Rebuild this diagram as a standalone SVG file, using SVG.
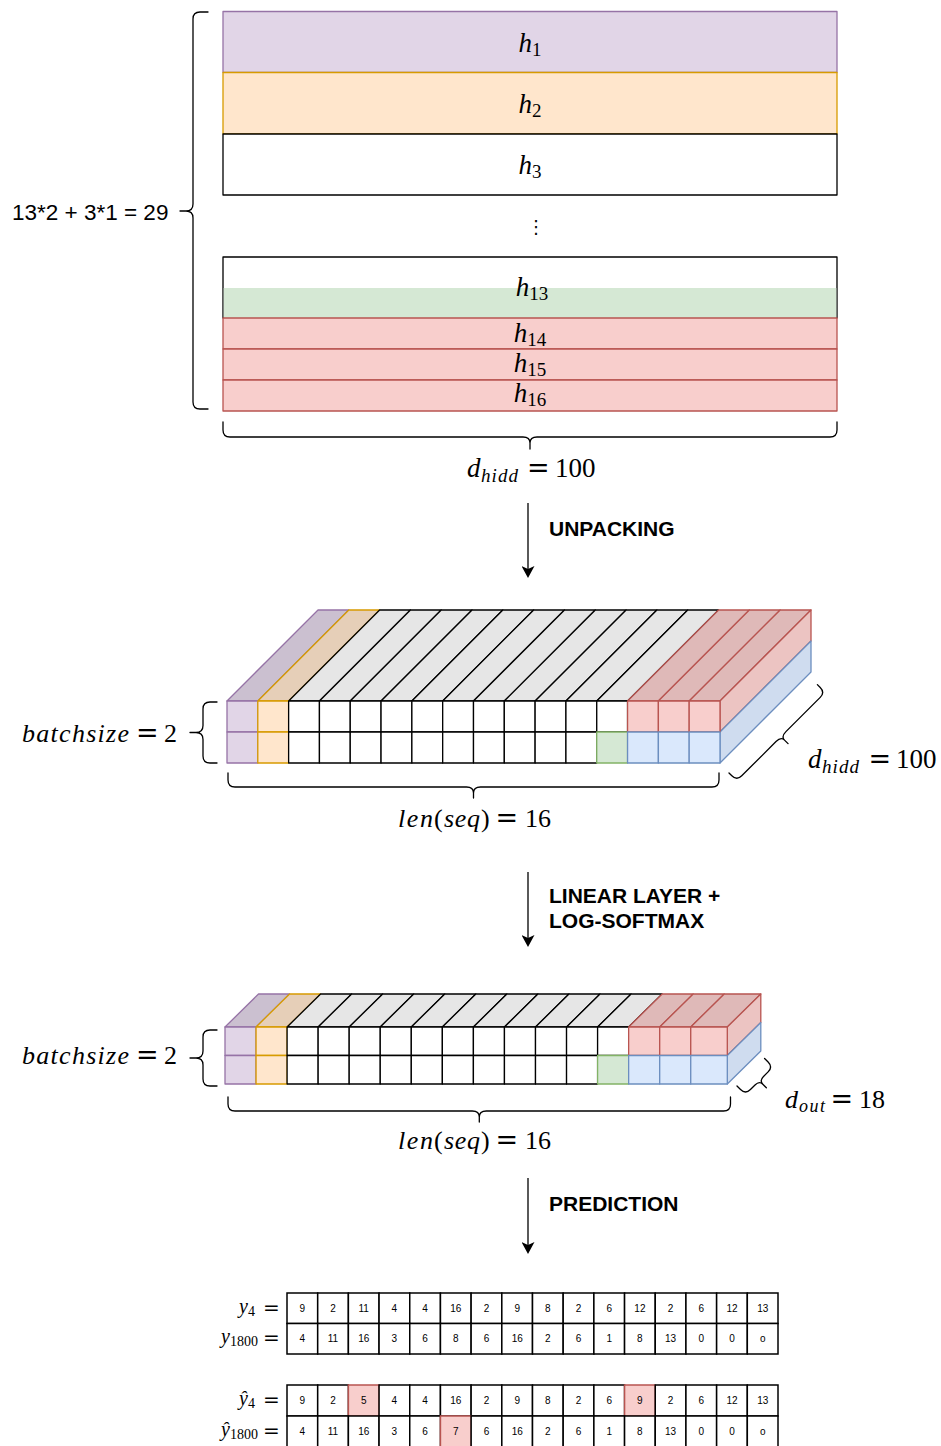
<svg xmlns="http://www.w3.org/2000/svg" width="941" height="1446" viewBox="0 0 941 1446">
  <defs>
    <style>
      .b { stroke-width: 1.3; stroke-linejoin: round; }
      .pu { fill: #e1d5e7; stroke: #9673a6; }
      .or { fill: #ffe6cc; stroke: #d79b00; }
      .wh { fill: #ffffff; stroke: #000000; }
      .gr { fill: #d5e8d4; stroke: #82b366; }
      .rd { fill: #f8cecc; stroke: #b85450; }
      .bl { fill: #dae8fc; stroke: #6c8ebf; }
      .put { fill: #cbc0d0; stroke: #9673a6; }
      .ort { fill: #e6cfb8; stroke: #d79b00; }
      .wht { fill: #e6e6e6; stroke: #000000; }
      .rdt { fill: #dfb9b8; stroke: #b85450; }
      .rds { fill: #ecc4c2; stroke: #b85450; }
      .bls { fill: #cfdcef; stroke: #6c8ebf; }
      .brace { fill: none; stroke: #000000; stroke-width: 1.3; stroke-linecap: round; stroke-linejoin: round; }
      .mi { font-family: "Liberation Serif", serif; font-style: italic; font-size: 27px; fill: #000; }
      .mn { font-family: "Liberation Serif", serif; font-size: 27px; fill: #000; }
      .eq { font-family: "DejaVu Serif", "Liberation Serif", serif; font-size: 27px; fill: #000; }
      .m26 { font-size: 26px; }
      .sub { font-style: normal; font-size: 19px; }
      .s19 { font-size: 19px; }
      .s18 { font-size: 18px; }
      .lab { font-family: "Liberation Sans", Arial, sans-serif; font-weight: bold; font-size: 21px; fill: #000; }
      .txt { font-family: "Liberation Sans", Arial, sans-serif; font-size: 22.5px; fill: #000; }
      .tc { fill: #ffffff; stroke: #000000; stroke-width: 1.5; }
      .th { fill: #f8cecc; stroke: #b85450; stroke-width: 1.5; }
      .n { font-family: "Liberation Sans", Arial, sans-serif; font-size: 10px; text-anchor: middle; fill: #000; }
      .ty { font-family: "Liberation Serif", serif; font-style: italic; font-size: 20px; fill: #000; }
      .tsub { font-style: normal; font-size: 14px; }
      .teq { font-family: "DejaVu Serif", "Liberation Serif", serif; font-size: 20px; fill: #000; }
      .conn { stroke: #000000; stroke-width: 1.3; fill: none; }
    </style>
    <marker id="arrow" markerUnits="userSpaceOnUse" markerWidth="13" markerHeight="13" refX="3" refY="6.5" orient="auto">
      <path d="M0,0 L12,6.5 L0,13 L3,6.5 Z" fill="#000"/>
    </marker>
  </defs>

  <!-- hidden-state stack -->
  <g id="stack">
    <g id="h1" class="b"><rect class="pu" x="223" y="11.5" width="614" height="61"/>
      <text class="mi" x="530" y="52" text-anchor="middle">h<tspan class="sub" dy="4">1</tspan></text></g>
    <g id="h2" class="b"><rect class="or" x="223" y="72.5" width="614" height="61.5"/>
      <text class="mi" x="530" y="113" text-anchor="middle">h<tspan class="sub" dy="4">2</tspan></text></g>
    <g id="h3" class="b"><rect class="wh" x="223" y="134" width="614" height="61"/>
      <text class="mi" x="530" y="174" text-anchor="middle">h<tspan class="sub" dy="4">3</tspan></text></g>
    <g id="vdots"><text x="536" y="233" font-family="DejaVu Sans, sans-serif" font-size="18" text-anchor="middle">⋮</text></g>
    <g id="h13" class="b"><rect class="wh" x="223" y="257" width="614" height="61"/>
      <rect x="223.7" y="288" width="612.6" height="30" fill="#d5e8d4"/>
      <text class="mi" x="532" y="296" text-anchor="middle">h<tspan class="sub" dy="4">13</tspan></text></g>
    <g id="h14" class="b"><rect class="rd" x="223" y="318" width="614" height="31"/>
      <text class="mi" x="530" y="342" text-anchor="middle">h<tspan class="sub" dy="4">14</tspan></text></g>
    <g id="h15" class="b"><rect class="rd" x="223" y="349" width="614" height="31"/>
      <text class="mi" x="530" y="372" text-anchor="middle">h<tspan class="sub" dy="4">15</tspan></text></g>
    <g id="h16" class="b"><rect class="rd" x="223" y="380" width="614" height="31"/>
      <text class="mi" x="530" y="402" text-anchor="middle">h<tspan class="sub" dy="4">16</tspan></text></g>
  </g>

  <g id="stack-count">
    <path class="brace" d="M208,12 H200 Q193,12 193,19 V204 Q193,211 186,211 H180 M186,211 Q193,211 193,218 V402 Q193,409 200,409 H208"/>
    <text class="txt" x="12" y="220">13*2 + 3*1 = 29</text>
  </g>

  <g id="stack-width">
    <path class="brace" d="M223,422 V430 Q223,437 230,437 H523 Q530,437 530,443 V449 M530,443 Q530,437 537,437 H830 Q837,437 837,430 V422"/>
    <text class="mi" x="467" y="477">d</text>
    <text class="mi s19" x="481" y="482" textLength="37" lengthAdjust="spacing">hidd</text>
    <text class="eq" x="527" y="477">=</text>
    <text class="mn" x="555" y="477">100</text>
  </g>

  <!-- connectors -->
  <g id="connectors">
    <line class="conn" x1="528" y1="503" x2="528" y2="569" marker-end="url(#arrow)"/>
    <line class="conn" x1="528" y1="872" x2="528" y2="938" marker-end="url(#arrow)"/>
    <line class="conn" x1="528" y1="1178" x2="528" y2="1245" marker-end="url(#arrow)"/>
    <text class="lab" x="549" y="536">UNPACKING</text>
    <text class="lab" x="549" y="903">LINEAR LAYER +</text>
    <text class="lab" x="549" y="928">LOG-SOFTMAX</text>
    <text class="lab" x="549" y="1211">PREDICTION</text>
  </g>

  <!-- unpacked tensor: batch x seq x hidden -->
  <g id="tensor-hidden" class="b">
    <g id="t1-top">
      <polygon class="put" points="227,701 257.81,701 348.81,610 318,610"/>
      <polygon class="ort" points="257.81,701 288.63,701 379.63,610 348.81,610"/>
      <polygon class="wht" points="288.63,701 319.44,701 410.44,610 379.63,610"/>
      <polygon class="wht" points="319.44,701 350.25,701 441.25,610 410.44,610"/>
      <polygon class="wht" points="350.25,701 381.06,701 472.06,610 441.25,610"/>
      <polygon class="wht" points="381.06,701 411.88,701 502.88,610 472.06,610"/>
      <polygon class="wht" points="411.88,701 442.69,701 533.69,610 502.88,610"/>
      <polygon class="wht" points="442.69,701 473.5,701 564.5,610 533.69,610"/>
      <polygon class="wht" points="473.5,701 504.31,701 595.31,610 564.5,610"/>
      <polygon class="wht" points="504.31,701 535.13,701 626.13,610 595.31,610"/>
      <polygon class="wht" points="535.13,701 565.94,701 656.94,610 626.13,610"/>
      <polygon class="wht" points="565.94,701 596.75,701 687.75,610 656.94,610"/>
      <polygon class="wht" points="596.75,701 627.56,701 718.56,610 687.75,610"/>
      <polygon class="rdt" points="627.56,701 658.38,701 749.38,610 718.56,610"/>
      <polygon class="rdt" points="658.38,701 689.19,701 780.19,610 749.38,610"/>
      <polygon class="rdt" points="689.19,701 720,701 811,610 780.19,610"/>
    </g>
    <g id="t1-side">
      <polygon class="rds" points="720,701 811,610 811,641 720,732"/>
      <polygon class="bls" points="720,732 811,641 811,672 720,763"/>
    </g>
    <g id="t1-front">
      <rect class="pu" x="227" y="701" width="30.81" height="31"/>
      <rect class="pu" x="227" y="732" width="30.81" height="31"/>
      <rect class="or" x="257.81" y="701" width="30.81" height="31"/>
      <rect class="or" x="257.81" y="732" width="30.81" height="31"/>
      <rect class="wh" x="288.63" y="701" width="30.81" height="31"/>
      <rect class="wh" x="288.63" y="732" width="30.81" height="31"/>
      <rect class="wh" x="319.44" y="701" width="30.81" height="31"/>
      <rect class="wh" x="319.44" y="732" width="30.81" height="31"/>
      <rect class="wh" x="350.25" y="701" width="30.81" height="31"/>
      <rect class="wh" x="350.25" y="732" width="30.81" height="31"/>
      <rect class="wh" x="381.06" y="701" width="30.81" height="31"/>
      <rect class="wh" x="381.06" y="732" width="30.81" height="31"/>
      <rect class="wh" x="411.88" y="701" width="30.81" height="31"/>
      <rect class="wh" x="411.88" y="732" width="30.81" height="31"/>
      <rect class="wh" x="442.69" y="701" width="30.81" height="31"/>
      <rect class="wh" x="442.69" y="732" width="30.81" height="31"/>
      <rect class="wh" x="473.5" y="701" width="30.81" height="31"/>
      <rect class="wh" x="473.5" y="732" width="30.81" height="31"/>
      <rect class="wh" x="504.31" y="701" width="30.81" height="31"/>
      <rect class="wh" x="504.31" y="732" width="30.81" height="31"/>
      <rect class="wh" x="535.13" y="701" width="30.81" height="31"/>
      <rect class="wh" x="535.13" y="732" width="30.81" height="31"/>
      <rect class="wh" x="565.94" y="701" width="30.81" height="31"/>
      <rect class="wh" x="565.94" y="732" width="30.81" height="31"/>
      <rect class="wh" x="596.75" y="701" width="30.81" height="31"/>
      <rect class="gr" x="596.75" y="732" width="30.81" height="31"/>
      <rect class="rd" x="627.56" y="701" width="30.81" height="31"/>
      <rect class="bl" x="627.56" y="732" width="30.81" height="31"/>
      <rect class="rd" x="658.38" y="701" width="30.81" height="31"/>
      <rect class="bl" x="658.38" y="732" width="30.81" height="31"/>
      <rect class="rd" x="689.19" y="701" width="30.81" height="31"/>
      <rect class="bl" x="689.19" y="732" width="30.81" height="31"/>
    </g>
  </g>

  <g id="t1-batch">
    <path class="brace" d="M217,702 H210 Q203,702 203,709 V725.5 Q203,732.5 196,732.5 H190 M196,732.5 Q203,732.5 203,739.5 V756 Q203,763 210,763 H217"/>
    <text class="mi m26" x="22" y="742" textLength="107" lengthAdjust="spacing">batchsize</text>
    <text class="eq" x="136" y="742">=</text>
    <text class="mn m26" x="164" y="742">2</text>
  </g>
  <g id="t1-seq">
    <path class="brace" d="M228,773 V780 Q228,787 235,787 H466.5 Q473.5,787 473.5,793 V798 M473.5,793 Q473.5,787 480.5,787 H712 Q719,787 719,780 V773"/>
    <text class="mi m26" x="398" y="827" textLength="35" lengthAdjust="spacing">len</text>
    <text class="mn m26" x="434" y="827">(</text>
    <text class="mi m26" x="444" y="827" textLength="36" lengthAdjust="spacing">seq</text>
    <text class="mn m26" x="481" y="827">)</text>
    <text class="eq" x="495.5" y="827">=</text>
    <text class="mn m26" x="525" y="827">16</text>
  </g>
  <g id="t1-depth">
    <path class="brace" transform="translate(729,773) rotate(-45)" d="M0,0 V4 Q0,11 7,11 H55.5 Q62.5,11 62.5,16 V21 M62.5,16 Q62.5,11 69.5,11 H118 Q125,11 125,4 V0"/>
    <text class="mi" x="808" y="768">d</text>
    <text class="mi s19" x="822" y="773" textLength="37" lengthAdjust="spacing">hidd</text>
    <text class="eq" x="868.5" y="768">=</text>
    <text class="mn" x="896" y="768">100</text>
  </g>

  <!-- output tensor: batch x seq x classes -->
  <g id="tensor-out" class="b">
    <g id="t2-top">
      <polygon class="put" points="225,1027 256.05,1027 289.55,994 258.5,994"/>
      <polygon class="ort" points="256.05,1027 287.1,1027 320.6,994 289.55,994"/>
      <polygon class="wht" points="287.1,1027 318.15,1027 351.65,994 320.6,994"/>
      <polygon class="wht" points="318.15,1027 349.2,1027 382.7,994 351.65,994"/>
      <polygon class="wht" points="349.2,1027 380.25,1027 413.75,994 382.7,994"/>
      <polygon class="wht" points="380.25,1027 411.3,1027 444.8,994 413.75,994"/>
      <polygon class="wht" points="411.3,1027 442.35,1027 475.85,994 444.8,994"/>
      <polygon class="wht" points="442.35,1027 473.4,1027 506.9,994 475.85,994"/>
      <polygon class="wht" points="473.4,1027 504.45,1027 537.95,994 506.9,994"/>
      <polygon class="wht" points="504.45,1027 535.5,1027 569,994 537.95,994"/>
      <polygon class="wht" points="535.5,1027 566.55,1027 600.05,994 569,994"/>
      <polygon class="wht" points="566.55,1027 597.6,1027 631.1,994 600.05,994"/>
      <polygon class="wht" points="597.6,1027 628.65,1027 662.15,994 631.1,994"/>
      <polygon class="rdt" points="628.65,1027 659.7,1027 693.2,994 662.15,994"/>
      <polygon class="rdt" points="659.7,1027 690.75,1027 724.25,994 693.2,994"/>
      <polygon class="rdt" points="690.75,1027 727.3,1027 760.8,994 724.25,994"/>
    </g>
    <g id="t2-side">
      <polygon class="rds" points="727.3,1027 760.8,994 760.8,1022.5 727.3,1055.5"/>
      <polygon class="bls" points="727.3,1055.5 760.8,1022.5 760.8,1051 727.3,1084"/>
    </g>
    <g id="t2-front">
      <rect class="pu" x="225" y="1027" width="31.05" height="28.5"/>
      <rect class="pu" x="225" y="1055.5" width="31.05" height="28.5"/>
      <rect class="or" x="256.05" y="1027" width="31.05" height="28.5"/>
      <rect class="or" x="256.05" y="1055.5" width="31.05" height="28.5"/>
      <rect class="wh" x="287.1" y="1027" width="31.05" height="28.5"/>
      <rect class="wh" x="287.1" y="1055.5" width="31.05" height="28.5"/>
      <rect class="wh" x="318.15" y="1027" width="31.05" height="28.5"/>
      <rect class="wh" x="318.15" y="1055.5" width="31.05" height="28.5"/>
      <rect class="wh" x="349.2" y="1027" width="31.05" height="28.5"/>
      <rect class="wh" x="349.2" y="1055.5" width="31.05" height="28.5"/>
      <rect class="wh" x="380.25" y="1027" width="31.05" height="28.5"/>
      <rect class="wh" x="380.25" y="1055.5" width="31.05" height="28.5"/>
      <rect class="wh" x="411.3" y="1027" width="31.05" height="28.5"/>
      <rect class="wh" x="411.3" y="1055.5" width="31.05" height="28.5"/>
      <rect class="wh" x="442.35" y="1027" width="31.05" height="28.5"/>
      <rect class="wh" x="442.35" y="1055.5" width="31.05" height="28.5"/>
      <rect class="wh" x="473.4" y="1027" width="31.05" height="28.5"/>
      <rect class="wh" x="473.4" y="1055.5" width="31.05" height="28.5"/>
      <rect class="wh" x="504.45" y="1027" width="31.05" height="28.5"/>
      <rect class="wh" x="504.45" y="1055.5" width="31.05" height="28.5"/>
      <rect class="wh" x="535.5" y="1027" width="31.05" height="28.5"/>
      <rect class="wh" x="535.5" y="1055.5" width="31.05" height="28.5"/>
      <rect class="wh" x="566.55" y="1027" width="31.05" height="28.5"/>
      <rect class="wh" x="566.55" y="1055.5" width="31.05" height="28.5"/>
      <rect class="wh" x="597.6" y="1027" width="31.05" height="28.5"/>
      <rect class="gr" x="597.6" y="1055.5" width="31.05" height="28.5"/>
      <rect class="rd" x="628.65" y="1027" width="31.05" height="28.5"/>
      <rect class="bl" x="628.65" y="1055.5" width="31.05" height="28.5"/>
      <rect class="rd" x="659.7" y="1027" width="31.05" height="28.5"/>
      <rect class="bl" x="659.7" y="1055.5" width="31.05" height="28.5"/>
      <rect class="rd" x="690.75" y="1027" width="36.55" height="28.5"/>
      <rect class="bl" x="690.75" y="1055.5" width="36.55" height="28.5"/>
    </g>
  </g>

  <g id="t2-batch">
    <path class="brace" d="M217,1030 H210 Q203,1030 203,1037 V1051 Q203,1058 196,1058 H190 M196,1058 Q203,1058 203,1065 V1079 Q203,1086 210,1086 H217"/>
    <text class="mi m26" x="22" y="1064" textLength="107" lengthAdjust="spacing">batchsize</text>
    <text class="eq" x="136" y="1064">=</text>
    <text class="mn m26" x="164" y="1064">2</text>
  </g>
  <g id="t2-seq">
    <path class="brace" d="M228,1097 V1104 Q228,1111 235,1111 H472.3 Q479.3,1111 479.3,1117 V1122 M479.3,1117 Q479.3,1111 486.3,1111 H723.5 Q730.5,1111 730.5,1104 V1097"/>
    <text class="mi m26" x="398" y="1149" textLength="35" lengthAdjust="spacing">len</text>
    <text class="mn m26" x="434" y="1149">(</text>
    <text class="mi m26" x="444" y="1149" textLength="36" lengthAdjust="spacing">seq</text>
    <text class="mn m26" x="481" y="1149">)</text>
    <text class="eq" x="495.5" y="1149">=</text>
    <text class="mn m26" x="525" y="1149">16</text>
  </g>
  <g id="t2-depth">
    <path class="brace" transform="translate(737,1086) rotate(-45)" d="M0,0 V5 Q0,12 7,12 H13.5 Q19.5,12 19.5,17 V22 M19.5,17 Q19.5,12 25.5,12 H32 Q39,12 39,5 V0"/>
    <text class="mi m26" x="785" y="1108">d</text>
    <text class="mi s18" x="799" y="1112" textLength="26" lengthAdjust="spacing">out</text>
    <text class="eq" x="830.5" y="1108">=</text>
    <text class="mn m26" x="859" y="1108">18</text>
  </g>

  <!-- targets -->
  <g id="targets">
    <text class="ty" x="255" y="1313" text-anchor="end">y<tspan class="tsub" dy="3">4</tspan></text>
    <text class="teq" x="263" y="1315">=</text>
    <text class="ty" x="258" y="1343" text-anchor="end">y<tspan class="tsub" dy="3">1800</tspan></text>
    <text class="teq" x="263" y="1345">=</text>
    <g id="targets-row1">
      <rect class="tc" x="287" y="1293" width="30.69" height="30.5"/>
      <rect class="tc" x="317.69" y="1293" width="30.69" height="30.5"/>
      <rect class="tc" x="348.38" y="1293" width="30.69" height="30.5"/>
      <rect class="tc" x="379.06" y="1293" width="30.69" height="30.5"/>
      <rect class="tc" x="409.75" y="1293" width="30.69" height="30.5"/>
      <rect class="tc" x="440.44" y="1293" width="30.69" height="30.5"/>
      <rect class="tc" x="471.13" y="1293" width="30.69" height="30.5"/>
      <rect class="tc" x="501.81" y="1293" width="30.69" height="30.5"/>
      <rect class="tc" x="532.5" y="1293" width="30.69" height="30.5"/>
      <rect class="tc" x="563.19" y="1293" width="30.69" height="30.5"/>
      <rect class="tc" x="593.88" y="1293" width="30.69" height="30.5"/>
      <rect class="tc" x="624.56" y="1293" width="30.69" height="30.5"/>
      <rect class="tc" x="655.25" y="1293" width="30.69" height="30.5"/>
      <rect class="tc" x="685.94" y="1293" width="30.69" height="30.5"/>
      <rect class="tc" x="716.63" y="1293" width="30.69" height="30.5"/>
      <rect class="tc" x="747.31" y="1293" width="30.69" height="30.5"/>
      <text class="n" y="1312"><tspan x="302.3">9</tspan><tspan x="333">2</tspan><tspan x="363.7">11</tspan><tspan x="394.4">4</tspan><tspan x="425.1">4</tspan><tspan x="455.8">16</tspan><tspan x="486.5">2</tspan><tspan x="517.2">9</tspan><tspan x="547.8">8</tspan><tspan x="578.5">2</tspan><tspan x="609.2">6</tspan><tspan x="639.9">12</tspan><tspan x="670.6">2</tspan><tspan x="701.3">6</tspan><tspan x="732">12</tspan><tspan x="762.7">13</tspan></text>
    </g>
    <g id="targets-row2">
      <rect class="tc" x="287" y="1323.5" width="30.69" height="30.5"/>
      <rect class="tc" x="317.69" y="1323.5" width="30.69" height="30.5"/>
      <rect class="tc" x="348.38" y="1323.5" width="30.69" height="30.5"/>
      <rect class="tc" x="379.06" y="1323.5" width="30.69" height="30.5"/>
      <rect class="tc" x="409.75" y="1323.5" width="30.69" height="30.5"/>
      <rect class="tc" x="440.44" y="1323.5" width="30.69" height="30.5"/>
      <rect class="tc" x="471.13" y="1323.5" width="30.69" height="30.5"/>
      <rect class="tc" x="501.81" y="1323.5" width="30.69" height="30.5"/>
      <rect class="tc" x="532.5" y="1323.5" width="30.69" height="30.5"/>
      <rect class="tc" x="563.19" y="1323.5" width="30.69" height="30.5"/>
      <rect class="tc" x="593.88" y="1323.5" width="30.69" height="30.5"/>
      <rect class="tc" x="624.56" y="1323.5" width="30.69" height="30.5"/>
      <rect class="tc" x="655.25" y="1323.5" width="30.69" height="30.5"/>
      <rect class="tc" x="685.94" y="1323.5" width="30.69" height="30.5"/>
      <rect class="tc" x="716.63" y="1323.5" width="30.69" height="30.5"/>
      <rect class="tc" x="747.31" y="1323.5" width="30.69" height="30.5"/>
      <text class="n" y="1342.3"><tspan x="302.3">4</tspan><tspan x="333">11</tspan><tspan x="363.7">16</tspan><tspan x="394.4">3</tspan><tspan x="425.1">6</tspan><tspan x="455.8">8</tspan><tspan x="486.5">6</tspan><tspan x="517.2">16</tspan><tspan x="547.8">2</tspan><tspan x="578.5">6</tspan><tspan x="609.2">1</tspan><tspan x="639.9">8</tspan><tspan x="670.6">13</tspan><tspan x="701.3">0</tspan><tspan x="732">0</tspan><tspan x="762.7">o</tspan></text>
    </g>
  </g>

  <!-- predictions -->
  <g id="predictions">
    <text class="ty" x="255" y="1405" text-anchor="end">ŷ<tspan class="tsub" dy="3">4</tspan></text>
    <text class="teq" x="263" y="1407">=</text>
    <text class="ty" x="258" y="1436" text-anchor="end">ŷ<tspan class="tsub" dy="3">1800</tspan></text>
    <text class="teq" x="263" y="1438">=</text>
    <g id="predictions-row1">
      <rect class="tc" x="287" y="1385" width="30.69" height="31"/>
      <rect class="tc" x="317.69" y="1385" width="30.69" height="31"/>
      <rect class="th" x="348.38" y="1385" width="30.69" height="31"/>
      <rect class="tc" x="379.06" y="1385" width="30.69" height="31"/>
      <rect class="tc" x="409.75" y="1385" width="30.69" height="31"/>
      <rect class="tc" x="440.44" y="1385" width="30.69" height="31"/>
      <rect class="tc" x="471.13" y="1385" width="30.69" height="31"/>
      <rect class="tc" x="501.81" y="1385" width="30.69" height="31"/>
      <rect class="tc" x="532.5" y="1385" width="30.69" height="31"/>
      <rect class="tc" x="563.19" y="1385" width="30.69" height="31"/>
      <rect class="tc" x="593.88" y="1385" width="30.69" height="31"/>
      <rect class="th" x="624.56" y="1385" width="30.69" height="31"/>
      <rect class="tc" x="655.25" y="1385" width="30.69" height="31"/>
      <rect class="tc" x="685.94" y="1385" width="30.69" height="31"/>
      <rect class="tc" x="716.63" y="1385" width="30.69" height="31"/>
      <rect class="tc" x="747.31" y="1385" width="30.69" height="31"/>
      <text class="n" y="1404"><tspan x="302.3">9</tspan><tspan x="333">2</tspan><tspan x="363.7">5</tspan><tspan x="394.4">4</tspan><tspan x="425.1">4</tspan><tspan x="455.8">16</tspan><tspan x="486.5">2</tspan><tspan x="517.2">9</tspan><tspan x="547.8">8</tspan><tspan x="578.5">2</tspan><tspan x="609.2">6</tspan><tspan x="639.9">9</tspan><tspan x="670.6">2</tspan><tspan x="701.3">6</tspan><tspan x="732">12</tspan><tspan x="762.7">13</tspan></text>
    </g>
    <g id="predictions-row2">
      <rect class="tc" x="287" y="1416" width="30.69" height="31"/>
      <rect class="tc" x="317.69" y="1416" width="30.69" height="31"/>
      <rect class="tc" x="348.38" y="1416" width="30.69" height="31"/>
      <rect class="tc" x="379.06" y="1416" width="30.69" height="31"/>
      <rect class="tc" x="409.75" y="1416" width="30.69" height="31"/>
      <rect class="th" x="440.44" y="1416" width="30.69" height="31"/>
      <rect class="tc" x="471.13" y="1416" width="30.69" height="31"/>
      <rect class="tc" x="501.81" y="1416" width="30.69" height="31"/>
      <rect class="tc" x="532.5" y="1416" width="30.69" height="31"/>
      <rect class="tc" x="563.19" y="1416" width="30.69" height="31"/>
      <rect class="tc" x="593.88" y="1416" width="30.69" height="31"/>
      <rect class="tc" x="624.56" y="1416" width="30.69" height="31"/>
      <rect class="tc" x="655.25" y="1416" width="30.69" height="31"/>
      <rect class="tc" x="685.94" y="1416" width="30.69" height="31"/>
      <rect class="tc" x="716.63" y="1416" width="30.69" height="31"/>
      <rect class="tc" x="747.31" y="1416" width="30.69" height="31"/>
      <text class="n" y="1435"><tspan x="302.3">4</tspan><tspan x="333">11</tspan><tspan x="363.7">16</tspan><tspan x="394.4">3</tspan><tspan x="425.1">6</tspan><tspan x="455.8">7</tspan><tspan x="486.5">6</tspan><tspan x="517.2">16</tspan><tspan x="547.8">2</tspan><tspan x="578.5">6</tspan><tspan x="609.2">1</tspan><tspan x="639.9">8</tspan><tspan x="670.6">13</tspan><tspan x="701.3">0</tspan><tspan x="732">0</tspan><tspan x="762.7">o</tspan></text>
    </g>
  </g>
</svg>
